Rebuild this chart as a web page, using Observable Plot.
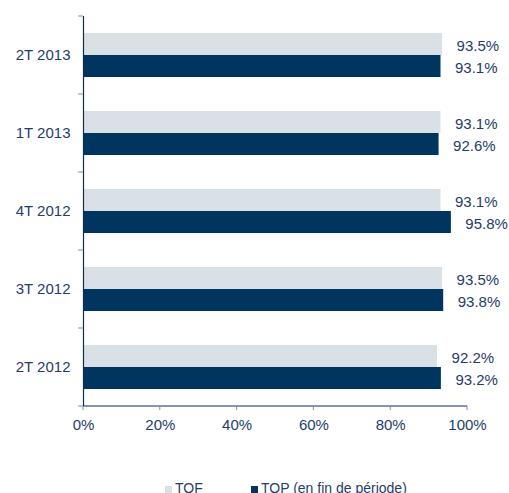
<!DOCTYPE html>
<html>
<head>
<meta charset="utf-8">
<script src="https://cdn.jsdelivr.net/npm/d3@7"></script>
<script src="https://cdn.jsdelivr.net/npm/@observablehq/plot@0.6"></script>
<style>
  body { margin: 0; background: #fff; font-family: "Liberation Sans", Arial, sans-serif; }
  #chart { position: relative; width: 509px; height: 493px; overflow: hidden; }
  .legend { position: absolute; top: 480px; left: 0; font-size: 14px; color: #1f3c6b; line-height: 16px; white-space: nowrap; }
  .item { position: absolute; top: 0; display: flex; align-items: center; }
  .sw { width: 7px; height: 7px; margin-right: 3px; margin-top: 3px; }
</style>
</head>
<body>
<div id="chart"></div>
<script>
const periods = ["2T 2013", "1T 2013", "4T 2012", "3T 2012", "2T 2012"];
const series = ["TOF", "TOP (en fin de période)"];
const tofValues = [0.935, 0.931, 0.931, 0.935, 0.922];
const topValues = [0.931, 0.926, 0.958, 0.938, 0.932];
const xTicks = [0, 0.2, 0.4, 0.6, 0.8, 1.0];
const colors = ["#d9e1e7", "#00355f"];
const textColor = "#1f3c6b";

const data = [];
periods.forEach((p, i) => {
  data.push({period: p, series: series[0], value: tofValues[i]});
  data.push({period: p, series: series[1], value: topValues[i]});
});

const W = 509, H = 480;
const mTop = 14, mBottom = H - 407, mLeft = 83, mRight = W - 467;

const plot = Plot.plot({
  width: W,
  height: H,
  marginTop: mTop,
  marginBottom: mBottom,
  marginLeft: mLeft,
  marginRight: mRight,
  style: {fontFamily: "'Liberation Sans', Arial, sans-serif", fontSize: "15px", color: textColor, background: "#fff", overflow: "visible"},
  x: {domain: [0, 1], axis: null},
  fy: {domain: periods, padding: 0, label: null, axis: null},
  y: {domain: series, paddingInner: 0, paddingOuter: 0.71, axis: null},
  color: {domain: series, range: colors},
  marks: [
    Plot.barX(data, {x: "value", y: "series", fy: "period", fill: "series"}),
    Plot.text(data, {x: "value", y: "series", fy: "period", text: d => d3.format(".1%")(d.value),
      textAnchor: "start", dx: 14, dy: 2, fill: textColor, fontSize: 15}),
    Plot.ruleX([0], {stroke: "#0b2d5c", strokeWidth: 1.2}),
    Plot.axisFy({anchor: "left", tickSize: 0, tickPadding: 13, fontSize: 15, color: textColor, label: null}),
    Plot.axisX({ticks: xTicks, tickFormat: d3.format(".0%"), tickSize: 0, tickPadding: 0, label: null, fontSize: 15, color: textColor, facetAnchor: "bottom", anchor: "bottom", dy: 13})
  ]
});

document.getElementById("chart").appendChild(plot);

// axis decorations using the plot's own scales
const svg = d3.select(plot);
const fy = plot.scale("fy");
const x = plot.scale("x");
const bottomY = fy.apply(periods[periods.length - 1]) + fy.bandwidth;
const bounds = periods.map(p => fy.apply(p)).concat([bottomY]);
const g = svg.append("g");
// x axis baseline
g.append("line").attr("x1", x.apply(0)).attr("x2", x.apply(1)).attr("y1", bottomY).attr("y2", bottomY)
  .attr("stroke", "#0b2d5c").attr("stroke-width", 1.2);
// y boundary ticks
bounds.forEach(b => {
  g.append("line").attr("x1", x.apply(0) - 5).attr("x2", x.apply(0)).attr("y1", b).attr("y2", b)
    .attr("stroke", "#7d8fae").attr("stroke-width", 1);
});
// x ticks
xTicks.forEach(t => {
  g.append("line").attr("x1", x.apply(t)).attr("x2", x.apply(t)).attr("y1", bottomY).attr("y2", bottomY + 4)
    .attr("stroke", "#7d8fae").attr("stroke-width", 1);
});

// legend
const legend = d3.select("#chart").append("div").attr("class", "legend");
const lx = [165, 251];
series.forEach((s, i) => {
  const it = legend.append("div").attr("class", "item").style("left", lx[i] + "px");
  it.append("div").attr("class", "sw").style("background", colors[i]);
  it.append("span").text(s);
});
</script>
</body>
</html>
